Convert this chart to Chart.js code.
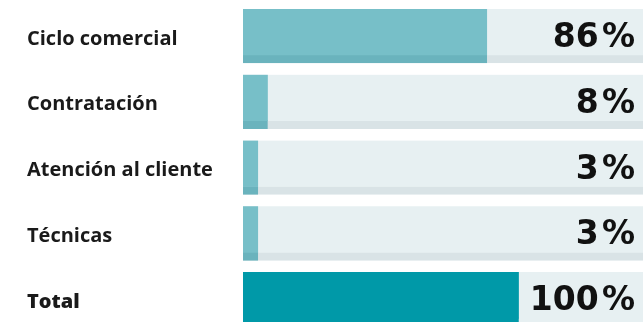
<!DOCTYPE html>
<html>
<head>
<meta charset="utf-8">
<script src="https://cdn.jsdelivr.net/npm/chart.js@4/dist/chart.umd.min.js"></script>
<style>
    html, body { margin: 0; padding: 0; background: #fff; overflow: hidden; }
    #wrap { width: 644px; height: 332px; }
</style>
</head>
<body>
<div id="wrap"><canvas id="barChart" width="644" height="332"></canvas></div>
<script>
const categories = ['Ciclo comercial', 'Contratación', 'Atención al cliente', 'Técnicas', 'Total'];
const pctLabels = ['86', '8', '3', '3', '100'];
// bar lengths (track = 145)
const barValues = [88.5, 9, 5.5, 5.5, 100];
const trackMax = 145;
const trackValues = categories.map(() => trackMax);

document.addEventListener('DOMContentLoaded', function () {
    const lastIndex = categories.length - 1;

    // draws the big percentage at the right of each row
    const pctPlugin = {
        id: 'pctPlugin',
        afterDatasetsDraw(chart) {
            const ctx = chart.ctx;
            const meta = chart.getDatasetMeta(0);
            ctx.save();
            ctx.fillStyle = '#111';
            ctx.font = 'bold 33px "DejaVu Sans"';
            ctx.textAlign = 'right';
            ctx.textBaseline = 'alphabetic';
            meta.data.forEach((bar, i) => {
                ctx.fillText(pctLabels[i] + '\u200A%', chart.chartArea.right - 8, bar.y + 11);
            });
            ctx.restore();
        }
    };

    const config = {
        type: 'bar',
        data: {
            labels: categories,
            datasets: [{
                data: barValues,
                backgroundColor: barValues.map((v, i) => i === lastIndex ? '#0099a8' : '#77bfc8'),
                borderColor: barValues.map((v, i) => i === lastIndex ? '#0099a8' : '#6ab3bd'),
                borderWidth: { top: 0, right: 0, bottom: 8, left: 0 },
                borderSkipped: false,
                barThickness: 54,
                grouped: false
            }, {
                data: trackValues,
                backgroundColor: '#e7f0f2',
                borderColor: trackValues.map((v, i) => i === lastIndex ? '#e7f0f2' : '#d9e3e6'),
                borderWidth: { top: 0, right: 0, bottom: 8, left: 0 },
                borderSkipped: false,
                barThickness: 54,
                grouped: false
            }]
        },
        options: {
            indexAxis: 'y',
            responsive: false,
            animation: false,
            layout: { padding: { left: 27, right: 1, top: 3, bottom: 0 } },
            plugins: {
                legend: { display: false },
                tooltip: { enabled: false }
            },
            scales: {
                x: {
                    display: false,
                    min: 0,
                    max: trackMax
                },
                y: {
                    grid: { display: false },
                    border: { display: false },
                    afterFit: function (scale) {
                        scale.width = 216;
                        scale.paddingTop = 0;
                        scale.paddingBottom = 0;
                    },
                    ticks: {
                        crossAlign: 'far',
                        padding: 0,
                        labelOffset: 3,
                        color: '#1a1a1a',
                        font: function (c) {
                            return {
                                family: 'Open Sans',
                                size: 20,
                                weight: c.index === lastIndex ? '800' : '700'
                            };
                        }
                    }
                }
            }
        },
        plugins: [pctPlugin]
    };

    const ctxBar = document.getElementById('barChart').getContext('2d');
    new Chart(ctxBar, config);
});
</script>
</body>
</html>
